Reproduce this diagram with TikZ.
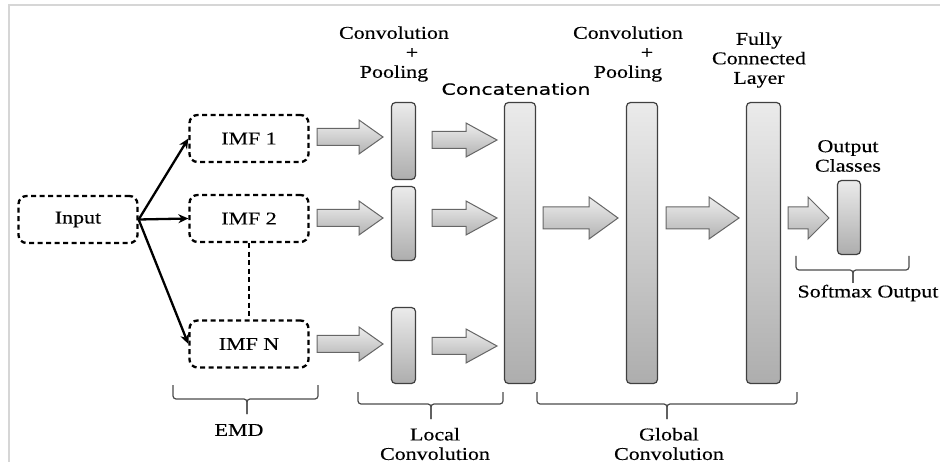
\documentclass[tikz,border=0pt]{standalone}
\usepackage{fontspec}
\setmainfont{Liberation Serif}[FakeStretch=1.22, FakeBold=0.35]
\newfontfamily\concatfont{DejaVu Sans}[FakeStretch=1.32, FakeBold=0.3]
\usetikzlibrary{arrows.meta}
\newcommand\barrowdraw[6]{\path[barr] (#1,{#3-#4}) -- ({#2-#6},{#3-#4}) -- ({#2-#6},{#3-#5}) -- (#2,#3) -- ({#2-#6},{#3+#5}) -- ({#2-#6},{#3+#4}) -- (#1,{#3+#4}) -- cycle;}
\begin{document}
\begin{tikzpicture}[x=1pt,y=-1pt,
  imf/.style={draw, line width=2.3pt, dash pattern=on 5pt off 3.5pt, rounded corners=8pt, minimum width=119pt, minimum height=47pt, inner sep=0pt, font=\fontsize{18}{20}\selectfont},
  lay/.style={draw=black!75, line width=1.2pt, rounded corners=4pt, top color=black!8, bottom color=black!32, inner sep=0pt},
  barr/.style={draw=black!60, line width=1pt, top color=black!7, bottom color=black!30},
  lbl/.style={align=center, font=\fontsize{18}{19.5}\selectfont, inner sep=0pt},
  brc/.style={draw=black!70, line width=1.2pt, rounded corners=3pt},
  dashln/.style={line width=2.3pt, dash pattern=on 5pt off 3.5pt},
  conn/.style={line width=2.3pt, -{Stealth[length=10pt,width=9pt]}}
]
\fill[white] (0,0) rectangle (940,462);
\useasboundingbox (0,0) rectangle (940,462);
\draw[black!16, line width=2pt] (8.5,462) -- (8.5,5.5) -- (940,5.5);

% dashed boxes
\node[imf] (in) at (78,219.5) {Input};
\node[imf] (i1) at (249,138.5) {IMF 1};
\node[imf] (i2) at (249,218.5) {IMF 2};
\node[imf] (iN) at (249,344) {IMF N};

\draw[conn] (in.east) -- (i1.west);
\draw[conn] (in.east) -- (i2.west);
\draw[conn] (in.east) -- (iN.west);
\draw[dashln] (i2.south) -- (iN.north);

% layers
\node[lay, minimum width=24pt, minimum height=77pt] (c1) at (403.5,141) {};
\node[lay, minimum width=24pt, minimum height=74pt] (c2) at (403.5,223.5) {};
\node[lay, minimum width=24pt, minimum height=76pt] (c3) at (403.5,345.5) {};
\node[lay, minimum width=31pt, minimum height=281pt] (cat) at (520,243) {};
\node[lay, minimum width=31pt, minimum height=281pt] (gc) at (642,243) {};
\node[lay, minimum width=34pt, minimum height=281pt] (fc) at (763.5,243) {};
\node[lay, minimum width=23pt, minimum height=74pt] (out) at (849,217.5) {};

% block arrows
\barrowdraw{317}{383}{137}{8.5}{17}{24}
\barrowdraw{317}{383}{218}{8.5}{17}{24}
\barrowdraw{317}{383}{344}{8.5}{17}{24}
\barrowdraw{432}{497}{140}{8.5}{17}{31}
\barrowdraw{432}{497}{218}{8.5}{17}{31}
\barrowdraw{432}{497}{346}{8.5}{17}{31}
\barrowdraw{543}{618}{218}{11}{21}{29}
\barrowdraw{666}{739}{218}{11}{21}{30}
\barrowdraw{788}{829}{218}{11}{21}{21}

% braces
\draw[brc] (173,385) |- (247,399) -- (247,414);
\draw[brc] (318,385) |- (247,399) -- (247,414);
\draw[brc] (358,392) |- (431,404) -- (431,419);
\draw[brc] (503,392) |- (431,404) -- (431,419);
\draw[brc] (537,392) |- (667,404) -- (667,419);
\draw[brc] (797,392) |- (667,404) -- (667,419);
\draw[brc] (796,256) |- (853,270) -- (853,283);
\draw[brc] (909,256) |- (853,270) -- (853,283);

% labels
\node[lbl] (lcp1) at (394,54) {Convolution\\\hspace*{36pt}+\\Pooling};
\node[inner sep=0pt, font=\concatfont\fontsize{15.5}{18}\selectfont] (lcat) at (516,89) {Concatenation};
\node[lbl] (lcp2) at (628,54) {Convolution\\\hspace*{38pt}+\\Pooling};
\node[lbl] (lfc) at (759,60) {Fully\\Connected\\Layer};
\node[lbl] (loc) at (848,156) {Output\\Classes};
\node[lbl] (lemd) at (239,430) {EMD};
\node[lbl] (lloc) at (435,444) {Local\\Convolution};
\node[lbl] (lglo) at (669,444) {Global\\Convolution};
\node[lbl] (lsm) at (868,293) {Softmax Output};
\end{tikzpicture}
\end{document}
